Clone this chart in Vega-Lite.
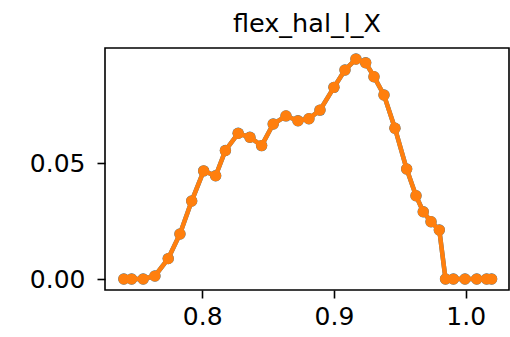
{
  "$schema": "https://vega.github.io/schema/vega-lite/v6.json",
  "autosize": {"type": "none"},
  "padding": {"left": 105, "top": 48, "right": 1, "bottom": 47},
  "width": 404,
  "height": 242,
  "background": "white",
  "title": {"text": "flex_hal_l_X", "font": "DejaVu Sans", "fontSize": 25.5, "fontWeight": "normal", "color": "black", "baseline": "alphabetic", "offset": 16, "dy": 25, "anchor": "middle"},
  "data": {"values": [
    {"x": 0.7405, "y": 0.0},
    {"x": 0.7464, "y": 0.0},
    {"x": 0.7552, "y": 0.0},
    {"x": 0.7641, "y": 0.0013},
    {"x": 0.7742, "y": 0.0088},
    {"x": 0.7831, "y": 0.0194},
    {"x": 0.7920, "y": 0.0336},
    {"x": 0.8011, "y": 0.0466},
    {"x": 0.8102, "y": 0.0445},
    {"x": 0.8176, "y": 0.0554},
    {"x": 0.8273, "y": 0.0628},
    {"x": 0.8362, "y": 0.0611},
    {"x": 0.8451, "y": 0.0575},
    {"x": 0.8539, "y": 0.0668},
    {"x": 0.8636, "y": 0.0703},
    {"x": 0.8727, "y": 0.0682},
    {"x": 0.8810, "y": 0.0691},
    {"x": 0.8894, "y": 0.0728},
    {"x": 0.9000, "y": 0.0826},
    {"x": 0.9084, "y": 0.0901},
    {"x": 0.9167, "y": 0.0948},
    {"x": 0.9241, "y": 0.0932},
    {"x": 0.9304, "y": 0.0872},
    {"x": 0.9380, "y": 0.0793},
    {"x": 0.9463, "y": 0.0650},
    {"x": 0.9552, "y": 0.0474},
    {"x": 0.9623, "y": 0.0359},
    {"x": 0.9678, "y": 0.0290},
    {"x": 0.9737, "y": 0.0247},
    {"x": 0.9800, "y": 0.0211},
    {"x": 0.9847, "y": 0.0},
    {"x": 0.9907, "y": 0.0},
    {"x": 0.9995, "y": 0.0},
    {"x": 1.0084, "y": 0.0},
    {"x": 1.0159, "y": 0.0},
    {"x": 1.0197, "y": 0.0}
  ]},
  "encoding": {
    "x": {"field": "x", "type": "quantitative", "scale": {"domain": [0.7262, 1.0329], "nice": false, "zero": false},
      "axis": {"values": [0.8, 0.9, 1.0], "format": ".1f", "title": null, "grid": false, "domain": false, "tickSize": 8, "tickWidth": 1.6, "tickColor": "black", "labelFont": "DejaVu Sans", "labelFontSize": 25, "labelColor": "black", "labelPadding": 6}},
    "y": {"field": "y", "type": "quantitative", "scale": {"domain": [-0.00474, 0.09957], "nice": false, "zero": false},
      "axis": {"values": [0, 0.05], "format": ".2f", "title": null, "grid": false, "domain": false, "tickSize": 8, "tickWidth": 1.6, "tickColor": "black", "labelFont": "DejaVu Sans", "labelFontSize": 25, "labelColor": "black", "labelPadding": 12}}
  },
  "layer": [
    {"mark": {"type": "line", "color": "#1f77b4", "strokeWidth": 4.5}},
    {"mark": {"type": "point", "filled": true, "opacity": 1, "color": "#1f77b4", "size": 130}},
    {"mark": {"type": "line", "color": "#ff7f0e", "strokeWidth": 4.5}},
    {"mark": {"type": "point", "filled": true, "opacity": 1, "color": "#ff7f0e", "size": 125}}
  ],
  "config": {"view": {"stroke": "black", "strokeWidth": 1.6}}
}
